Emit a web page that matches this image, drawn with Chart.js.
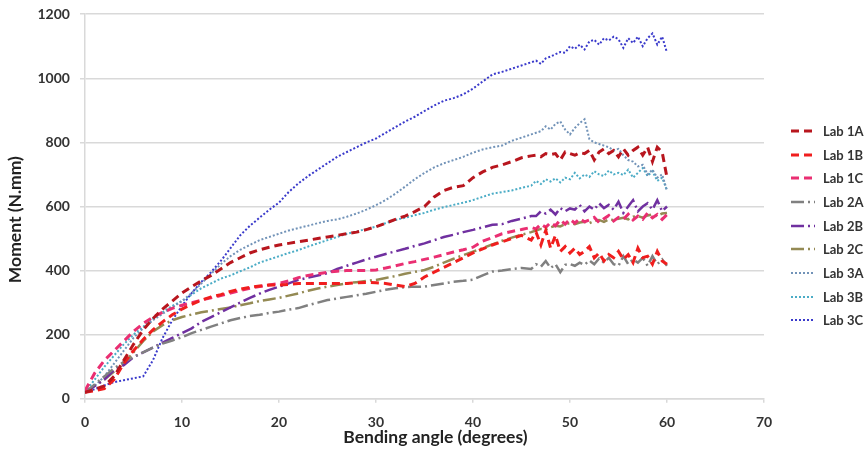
<!DOCTYPE html>
<html lang="en">
<head>
<meta charset="UTF-8">
<title>Moment vs bending angle</title>
<script src="https://cdn.jsdelivr.net/npm/chart.js@4"></script>
<style>
    html, body { margin: 0; padding: 0; background: #fff; }
    .wrap { position: relative; width: 865px; height: 449px; }
    #legenda { position: absolute; left: 791px; top: 119px; font: bold 13px Lato, "Open Sans", sans-serif; color: #333; }
    #legenda .item { display: flex; align-items: center; height: 23.7px; white-space: nowrap; }
    #legenda svg { width: 24px; height: 6px; margin-right: 8px; }
</style>
</head>
<body>
<div class="wrap">
    <canvas id="grafico" width="865" height="449"></canvas>
    <div id="legenda"></div>
</div>
<script>
    // bending angle (degrees), shared by every series
    const angles = [0, 1, 2, 3, 4, 5, 6, 7, 8, 9, 10, 11, 12, 13, 14, 15, 16, 17, 18, 19, 20,
        21, 22, 23, 24, 25, 26, 27, 28, 29, 30, 31, 32, 33, 34, 35, 36, 37, 38, 39, 40,
        41, 42, 43, 44, 45, 46, 46.5, 47, 47.5, 48, 48.5, 49, 49.5, 50, 50.5, 51, 51.5,
        52, 52.5, 53, 53.5, 54, 54.5, 55, 55.5, 56, 56.5, 57, 57.5, 58, 58.5, 59, 59.5, 60];

    // moment (N.mm)
    const lab1A = [20, 30, 40, 70, 120, 170, 215, 250, 280, 305, 330, 350, 368, 385, 405, 425, 440, 455, 465, 473, 480,
        485, 490, 495, 500, 505, 510, 515, 520, 528, 537, 548, 560, 570, 584, 600, 630, 650, 660, 665, 690,
        708, 722, 730, 740, 752, 758, 760, 755, 765, 762, 765, 745, 770, 765, 760, 768, 765,
        775, 745, 770, 780, 765, 775, 755, 780, 760, 775, 785, 760, 785, 740, 785, 770, 690];
    const lab1B = [20, 25, 32, 60, 110, 150, 185, 215, 240, 262, 280, 295, 308, 318, 325, 335, 342, 348, 352, 355, 355,
        357, 360, 360, 360, 360, 360, 360, 362, 363, 362, 360, 355, 350, 360, 380, 395, 410, 425, 440, 455,
        468, 480, 490, 500, 510, 495, 520, 480, 525, 470, 510, 460, 475, 455, 470, 450, 460,
        475, 440, 455, 430, 450, 440, 460, 435, 450, 425, 470, 440, 445, 420, 460, 430, 420];
    const lab1C = [25, 80, 120, 150, 180, 210, 235, 255, 270, 282, 292, 300, 308, 315, 322, 330, 338, 345, 350, 355, 360,
        368, 378, 385, 390, 395, 398, 400, 400, 400, 402, 408, 415, 422, 428, 435, 442, 450, 458, 465, 473,
        492, 503, 515, 522, 528, 535, 530, 545, 535, 550, 540, 558, 545, 560, 548, 562, 552,
        558, 566, 550, 562, 572, 555, 566, 560, 576, 558, 570, 560, 580, 565, 575, 560, 575];
    const lab2A = [20, 45, 70, 95, 115, 130, 145, 160, 172, 182, 192, 205, 215, 225, 235, 245, 252, 258, 262, 268, 272,
        278, 283, 292, 300, 308, 313, 318, 323, 328, 334, 340, 345, 348, 350, 350, 355, 360, 365, 368, 372,
        385, 397, 400, 405, 408, 405, 420, 412, 430, 408, 420, 395, 418, 420, 415, 425, 418,
        432, 420, 438, 425, 440, 420, 415, 445, 420, 435, 425, 440, 415, 445, 420, 435, 415];
    const lab2B = [20, 40, 60, 90, 105, 130, 145, 160, 175, 190, 205, 220, 240, 255, 270, 285, 300, 315, 328, 340, 350,
        360, 371, 378, 385, 392, 405, 415, 425, 435, 443, 452, 460, 468, 477, 485, 495, 505, 512, 520, 527,
        535, 543, 545, 555, 562, 570, 570, 585, 578, 590, 575, 595, 585, 594, 590, 605, 585,
        600, 590, 610, 595, 605, 590, 615, 580, 600, 620, 585, 600, 610, 590, 620, 585, 600];
    const lab2C = [20, 40, 60, 85, 110, 145, 180, 210, 230, 245, 255, 263, 270, 275, 280, 285, 292, 298, 305, 310, 315,
        322, 329, 337, 344, 350, 355, 360, 364, 368, 371, 377, 383, 390, 396, 402, 412, 425, 437, 448, 459,
        470, 482, 493, 503, 512, 520, 525, 530, 528, 535, 540, 538, 545, 548, 545, 550, 552,
        548, 555, 558, 552, 560, 558, 562, 565, 560, 568, 570, 565, 572, 575, 570, 578, 580];
    const lab3A = [20, 40, 70, 110, 150, 190, 220, 245, 265, 285, 305, 330, 360, 390, 420, 445, 465, 480, 495, 505, 515,
        525, 533, 540, 548, 555, 560, 568, 578, 590, 604, 620, 640, 662, 685, 705, 722, 735, 745, 755, 768,
        778, 785, 790, 805, 815, 825, 830, 835, 850, 840, 858, 865, 840, 825, 845, 860, 872,
        810, 800, 795, 790, 785, 775, 780, 760, 745, 740, 725, 730, 700, 715, 690, 700, 650];
    const lab3B = [20, 60, 100, 135, 170, 200, 225, 250, 270, 290, 305, 325, 345, 360, 375, 385, 398, 410, 425, 435, 445,
        455, 464, 475, 485, 495, 505, 515, 522, 530, 537, 548, 558, 565, 573, 580, 590, 598, 605, 612, 620,
        630, 640, 645, 650, 658, 665, 680, 670, 685, 678, 688, 675, 690, 685, 705, 688, 700,
        692, 710, 700, 695, 712, 700, 705, 698, 715, 690, 705, 720, 695, 710, 680, 690, 650];
    const lab3C = [20, 30, 42, 52, 58, 64, 70, 120, 190, 245, 290, 330, 365, 395, 430, 470, 510, 540, 565, 590, 612,
        645, 672, 695, 715, 735, 755, 770, 785, 800, 812, 830, 848, 865, 880, 898, 915, 930, 938, 950, 968,
        990, 1012, 1020, 1030, 1040, 1050, 1055, 1045, 1062, 1068, 1075, 1082, 1080, 1100, 1092, 1105, 1090,
        1115, 1120, 1105, 1125, 1118, 1130, 1122, 1095, 1125, 1110, 1130, 1100, 1125, 1140, 1105, 1130, 1080];

    const nomes = ['Lab 1A', 'Lab 1B', 'Lab 1C', 'Lab 2A', 'Lab 2B', 'Lab 2C', 'Lab 3A', 'Lab 3B', 'Lab 3C'];
    const valores = [lab1A, lab1B, lab1C, lab2A, lab2B, lab2C, lab3A, lab3B, lab3C];

    const cores = ['#b8161e', '#f01e1e', '#ea2f72', '#808080', '#7030a0', '#948a54', '#7293b8', '#4bacc6', '#3a3acb'];
    const tracos = [[8, 5], [8, 5], [8, 5], [13, 4, 2, 4], [13, 4, 2, 4], [13, 4, 2, 4], [2, 2], [2, 2], [2, 2]];
    const larguras = [3, 3, 3, 2.5, 2.5, 2.5, 2, 2, 2];

    const fonte = 'Lato, "Open Sans", sans-serif';

    let datasets = [];
    for (let i = 0; i < nomes.length; i++) {
        datasets.push({
            label: nomes[i],
            data: angles.map((a, j) => ({ x: a, y: valores[i][j] })),
            borderColor: cores[i],
            backgroundColor: cores[i],
            borderDash: tracos[i],
            borderWidth: larguras[i],
            pointRadius: 0,
            tension: 0,
            fill: false
        });
    }

    // legenda em HTML, com amostra de linha tracejada em svg
    const legenda = document.getElementById('legenda');
    for (let i = 0; i < nomes.length; i++) {
        legenda.innerHTML += `<div class="item"><svg viewBox="0 0 24 6">
            <line x1="0" y1="3" x2="24" y2="3" stroke="${cores[i]}" stroke-width="${larguras[i]}"
                stroke-dasharray="${tracos[i].join(' ')}"/></svg>${nomes[i]}</div>`;
    }

    const config = {
        type: 'line',
        data: { datasets: datasets },
        options: {
            responsive: false,
            animation: false,
            layout: { padding: { left: 1, top: 0, right: 101, bottom: 0 } },
            plugins: {
                tooltip: { enabled: false },
                legend: { display: false }
            },
            scales: {
                x: {
                    type: 'linear',
                    min: 0,
                    max: 70,
                    ticks: { stepSize: 10, padding: 11.6, color: '#333', font: { family: fonte, size: 14, weight: 'bold' } },
                    grid: { drawOnChartArea: false, drawTicks: true, tickLength: 4, color: '#d9d9d9', lineWidth: 1.5 },
                    border: { color: '#d9d9d9', width: 1.5 },
                    title: {
                        display: true,
                        // espaço inicial: no original o título fica um pouco à direita do centro
                        text: '\u2003\u2002Bending angle (degrees)',
                        color: '#222',
                        padding: { top: -15.8, bottom: 1 },
                        font: { family: fonte, size: 17.5, weight: 'bold' }
                    }
                },
                y: {
                    min: 0,
                    max: 1200,
                    ticks: {
                        stepSize: 200, padding: 10, color: '#333',
                        font: { family: fonte, size: 14, weight: 'bold', lineHeight: 0.6 },
                        callback: (v) => v
                    },
                    grid: { drawTicks: true, tickLength: 5, color: '#d9d9d9', lineWidth: 1.5 },
                    border: { color: '#d9d9d9', width: 1.5 },
                    title: {
                        display: true,
                        text: 'Moment (N.mm)\u2003\u2003',
                        color: '#222',
                        padding: { top: 4, bottom: 1.5 },
                        font: { family: fonte, size: 17.5, weight: 'bold' }
                    }
                }
            }
        }
    };

    new Chart(document.getElementById('grafico'), config);
</script>
</body>
</html>
